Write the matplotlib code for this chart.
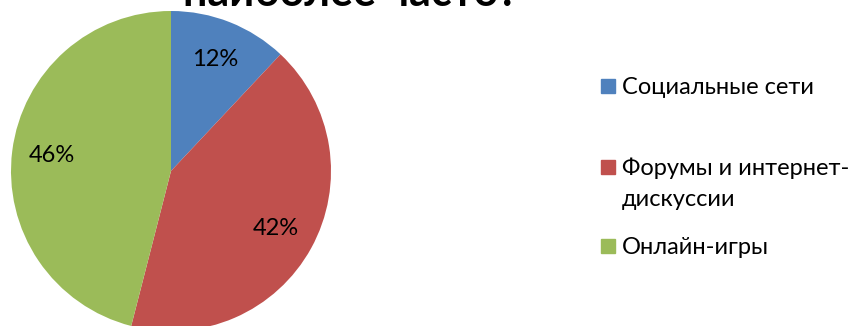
import matplotlib
matplotlib.use('Agg')
import matplotlib.pyplot as plt
from matplotlib.patches import Rectangle

plt.rcParams['font.family'] = ['Lato', 'DejaVu Sans']

title = 'наиболее часто?'
categories = ['Социальные сети', 'Форумы и интернет-\nдискуссии', 'Онлайн-игры']
shares = [12, 42, 46]
colors = ['#4F81BD', '#C0504D', '#9BBB59']

W, H = 856, 326
fig = plt.figure(figsize=(W / 100, H / 100), dpi=100)

# pie: centre at (171, 171) px from top-left, radius 160 px
cx, cy, r = 171, 171, 160
ax = fig.add_axes([(cx - r) / W, (H - cy - r) / H, 2 * r / W, 2 * r / H])
ax.pie(shares, colors=colors, startangle=90, counterclock=False,
       autopct='%d%%', pctdistance=0.75,
       textprops={'fontsize': 17, 'color': 'black'})
ax.set_xlim(-1, 1)
ax.set_ylim(-1, 1)
ax.set_aspect('equal')
ax.axis('off')

# only the last line of the title fits above the pie
fig.text(351 / W, 1 - 6 / H, title, ha='center', va='baseline',
         fontsize=31, fontweight='bold')

# legend drawn by hand, squares line up with the first text line
rows = [94, 175, 254]
line_gap = 31
sq = 14
for lab, col, base in zip(categories, colors, rows):
    fig.patches.append(Rectangle((601 / W, 1 - (base - 1) / H), sq / W, sq / H,
                                 transform=fig.transFigure, color=col))
    for i, line in enumerate(lab.split('\n')):
        fig.text(622 / W, 1 - (base + i * line_gap) / H, line,
                 ha='left', va='baseline', fontsize=17)

fig.savefig('out.png', dpi=100)
